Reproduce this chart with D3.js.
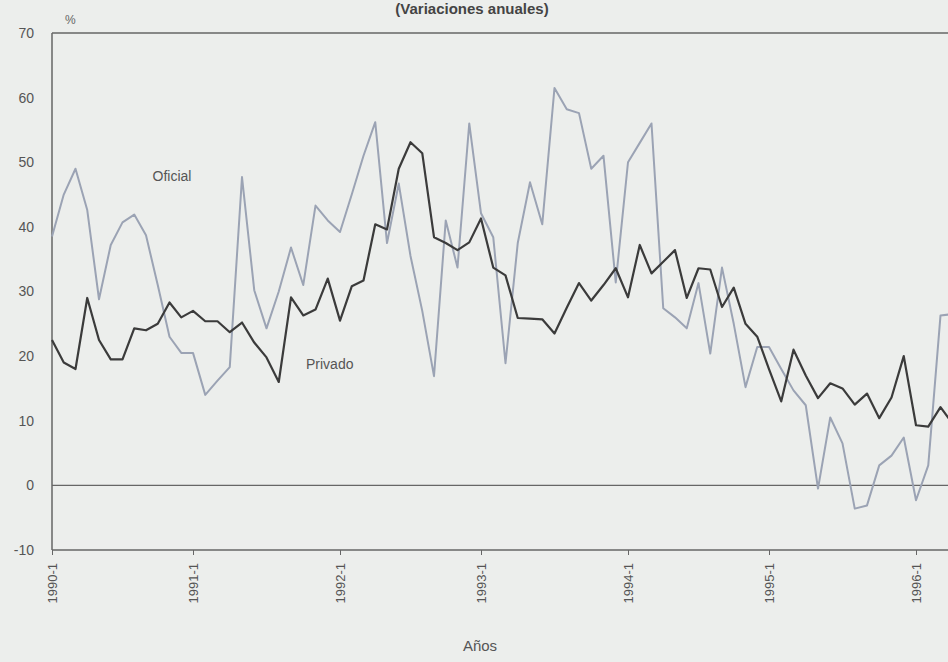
<!DOCTYPE html>
<html>
<head>
    <meta charset="utf-8">
    <style>
        body {
            margin: 0;
            background: #eceeec;
            font-family: Arial, 'Liberation Sans', sans-serif;
        }
        svg {
            display: block;
        }
        .y .domain, .y .tick line {
            display: none;
        }
        .y .tick text {
            font-size: 14px;
            fill: #555;
        }
        .x .domain {
            stroke: #666;
            stroke-width: 1.5px;
        }
        .x .tick line {
            stroke: #666;
        }
        .x .tick text {
            font-size: 13px;
            fill: #555;
        }
    </style>
</head>
<body>
<svg width="948" height="662"></svg>

<script src="https://cdnjs.cloudflare.com/ajax/libs/d3/7.8.5/d3.min.js"></script>
<script>
    // tick labels (one per January)
    let tickLabels = ["1990-1", "1991-1", "1992-1", "1993-1", "1994-1", "1995-1", "1996-1"]
    let yTicks = [-10, 0, 10, 20, 30, 40, 50, 60, 70]

    // monthly annual variation, % (Jan 1990 onwards)
    let oficial = [38.5, 45, 49, 42.6, 28.8, 37.2, 40.7, 41.9, 38.7, 31, 23, 20.5,
        20.5, 14, 16.2, 18.3, 47.7, 30.2, 24.3, 30, 36.8, 31, 43.3, 41,
        39.2, 45, 51, 56.2, 37.5, 46.7, 35.5, 27, 16.9, 41, 33.7, 56,
        42.1, 38.4, 18.9, 37.5, 46.9, 40.4, 61.5, 58.2, 57.6, 49, 51, 31.4,
        50, 53, 56, 27.4, 26, 24.3, 31.3, 20.4, 33.7, 25, 15.2, 21.4,
        21.4, 18, 14.7, 12.4, -0.5, 10.5, 6.5, -3.6, -3.1, 3.1, 4.6, 7.4,
        -2.3, 3.1, 26.3, 26.5]

    let privado = [22.5, 19, 18, 29, 22.5, 19.5, 19.5, 24.3, 24, 25, 28.3, 26,
        27, 25.4, 25.4, 23.7, 25.2, 22.1, 19.8, 16, 29.1, 26.3, 27.2, 32,
        25.5, 30.8, 31.7, 40.4, 39.6, 49, 53.1, 51.4, 38.4, 37.5, 36.4, 37.6,
        41.3, 33.7, 32.5, 25.9, 25.8, 25.7, 23.5, 27.5, 31.3, 28.6, 31, 33.6,
        29.1, 37.2, 32.8, 34.6, 36.4, 29, 33.6, 33.4, 27.6, 30.6, 25, 23,
        18, 13, 21, 17, 13.5, 15.8, 15, 12.5, 14.2, 10.4, 13.6, 20,
        9.3, 9.1, 12.1, 9.5]

    let svg = d3.select("svg")
    let width = 948

    let margin = { top: 33, left: 52, bottom: 550 }

    // month index -> x, anchored on each January tick
    let x = d3.scaleLinear()
        .domain(tickLabels.map((d, i) => i * 12))
        .range([52, 193, 340, 481, 628, 769, 916])

    let y = d3.scaleLinear()
        .domain([-10, 70])
        .range([margin.bottom, margin.top])

    // title, close to the top edge as in the scan
    svg.append("text")
        .attr("x", 472)
        .attr("y", 14)
        .attr("text-anchor", "middle")
        .attr("font-size", 15)
        .attr("font-weight", "bold")
        .attr("fill", "#444")
        .text("(Variaciones anuales)")

    svg.append("text")
        .attr("x", 65)
        .attr("y", 24)
        .attr("font-size", 12)
        .attr("fill", "#666")
        .text("%")

    let yAxis = d3.axisLeft(y)
        .tickValues(yTicks)
        .tickFormat(d => String(d))
        .tickSize(0)
        .tickPadding(18)

    svg.append("g")
        .attr("class", "y axis")
        .attr("transform", `translate(${margin.left},0)`)
        .call(yAxis)

    // frame: top and left lines, zero line
    svg.append("line")
        .attr("x1", margin.left).attr("x2", width)
        .attr("y1", y(70)).attr("y2", y(70))
        .attr("stroke", "#666").attr("stroke-width", 1.5)

    svg.append("line")
        .attr("x1", margin.left).attr("x2", margin.left)
        .attr("y1", y(70)).attr("y2", y(-10))
        .attr("stroke", "#666").attr("stroke-width", 1.5)

    svg.append("line")
        .attr("x1", margin.left).attr("x2", width)
        .attr("y1", y(0)).attr("y2", y(0))
        .attr("stroke", "#666").attr("stroke-width", 1.3)

    let xAxis = d3.axisBottom(x)
        .tickValues(tickLabels.map((d, i) => i * 12))
        .tickFormat((d, i) => tickLabels[i])
        .tickSize(5)
        .tickSizeOuter(0)

    let xg = svg.append("g")
        .attr("class", "x axis")
        .attr("transform", `translate(0,${margin.bottom})`)
        .call(xAxis)

    xg.select(".domain").attr("d", `M${margin.left},0H${width}`)

    xg.selectAll(".tick text")
        .attr("transform", "rotate(-90)")
        .attr("text-anchor", "end")
        .attr("x", -13)
        .attr("y", 0)
        .attr("dy", "0.35em")

    svg.append("text")
        .attr("x", 480)
        .attr("y", 651)
        .attr("text-anchor", "middle")
        .attr("font-size", 15)
        .attr("fill", "#555")
        .text("Años")

    let line = d3.line()
        .x((d, i) => x(i))
        .y(d => y(d))

    svg.append("path")
        .datum(oficial)
        .attr("d", line)
        .attr("fill", "none")
        .attr("stroke", "#9ba3b4")
        .attr("stroke-width", 2)
        .attr("stroke-linejoin", "round")

    svg.append("path")
        .datum(privado)
        .attr("d", line)
        .attr("fill", "none")
        .attr("stroke", "#3b3b3b")
        .attr("stroke-width", 2.2)
        .attr("stroke-linejoin", "round")

    // series labels
    svg.append("text")
        .attr("x", 172)
        .attr("y", 181)
        .attr("text-anchor", "middle")
        .attr("font-size", 14)
        .attr("fill", "#555")
        .text("Oficial")

    svg.append("text")
        .attr("x", 306)
        .attr("y", 369)
        .attr("font-size", 14)
        .attr("fill", "#555")
        .text("Privado")
</script>
</body>
</html>
